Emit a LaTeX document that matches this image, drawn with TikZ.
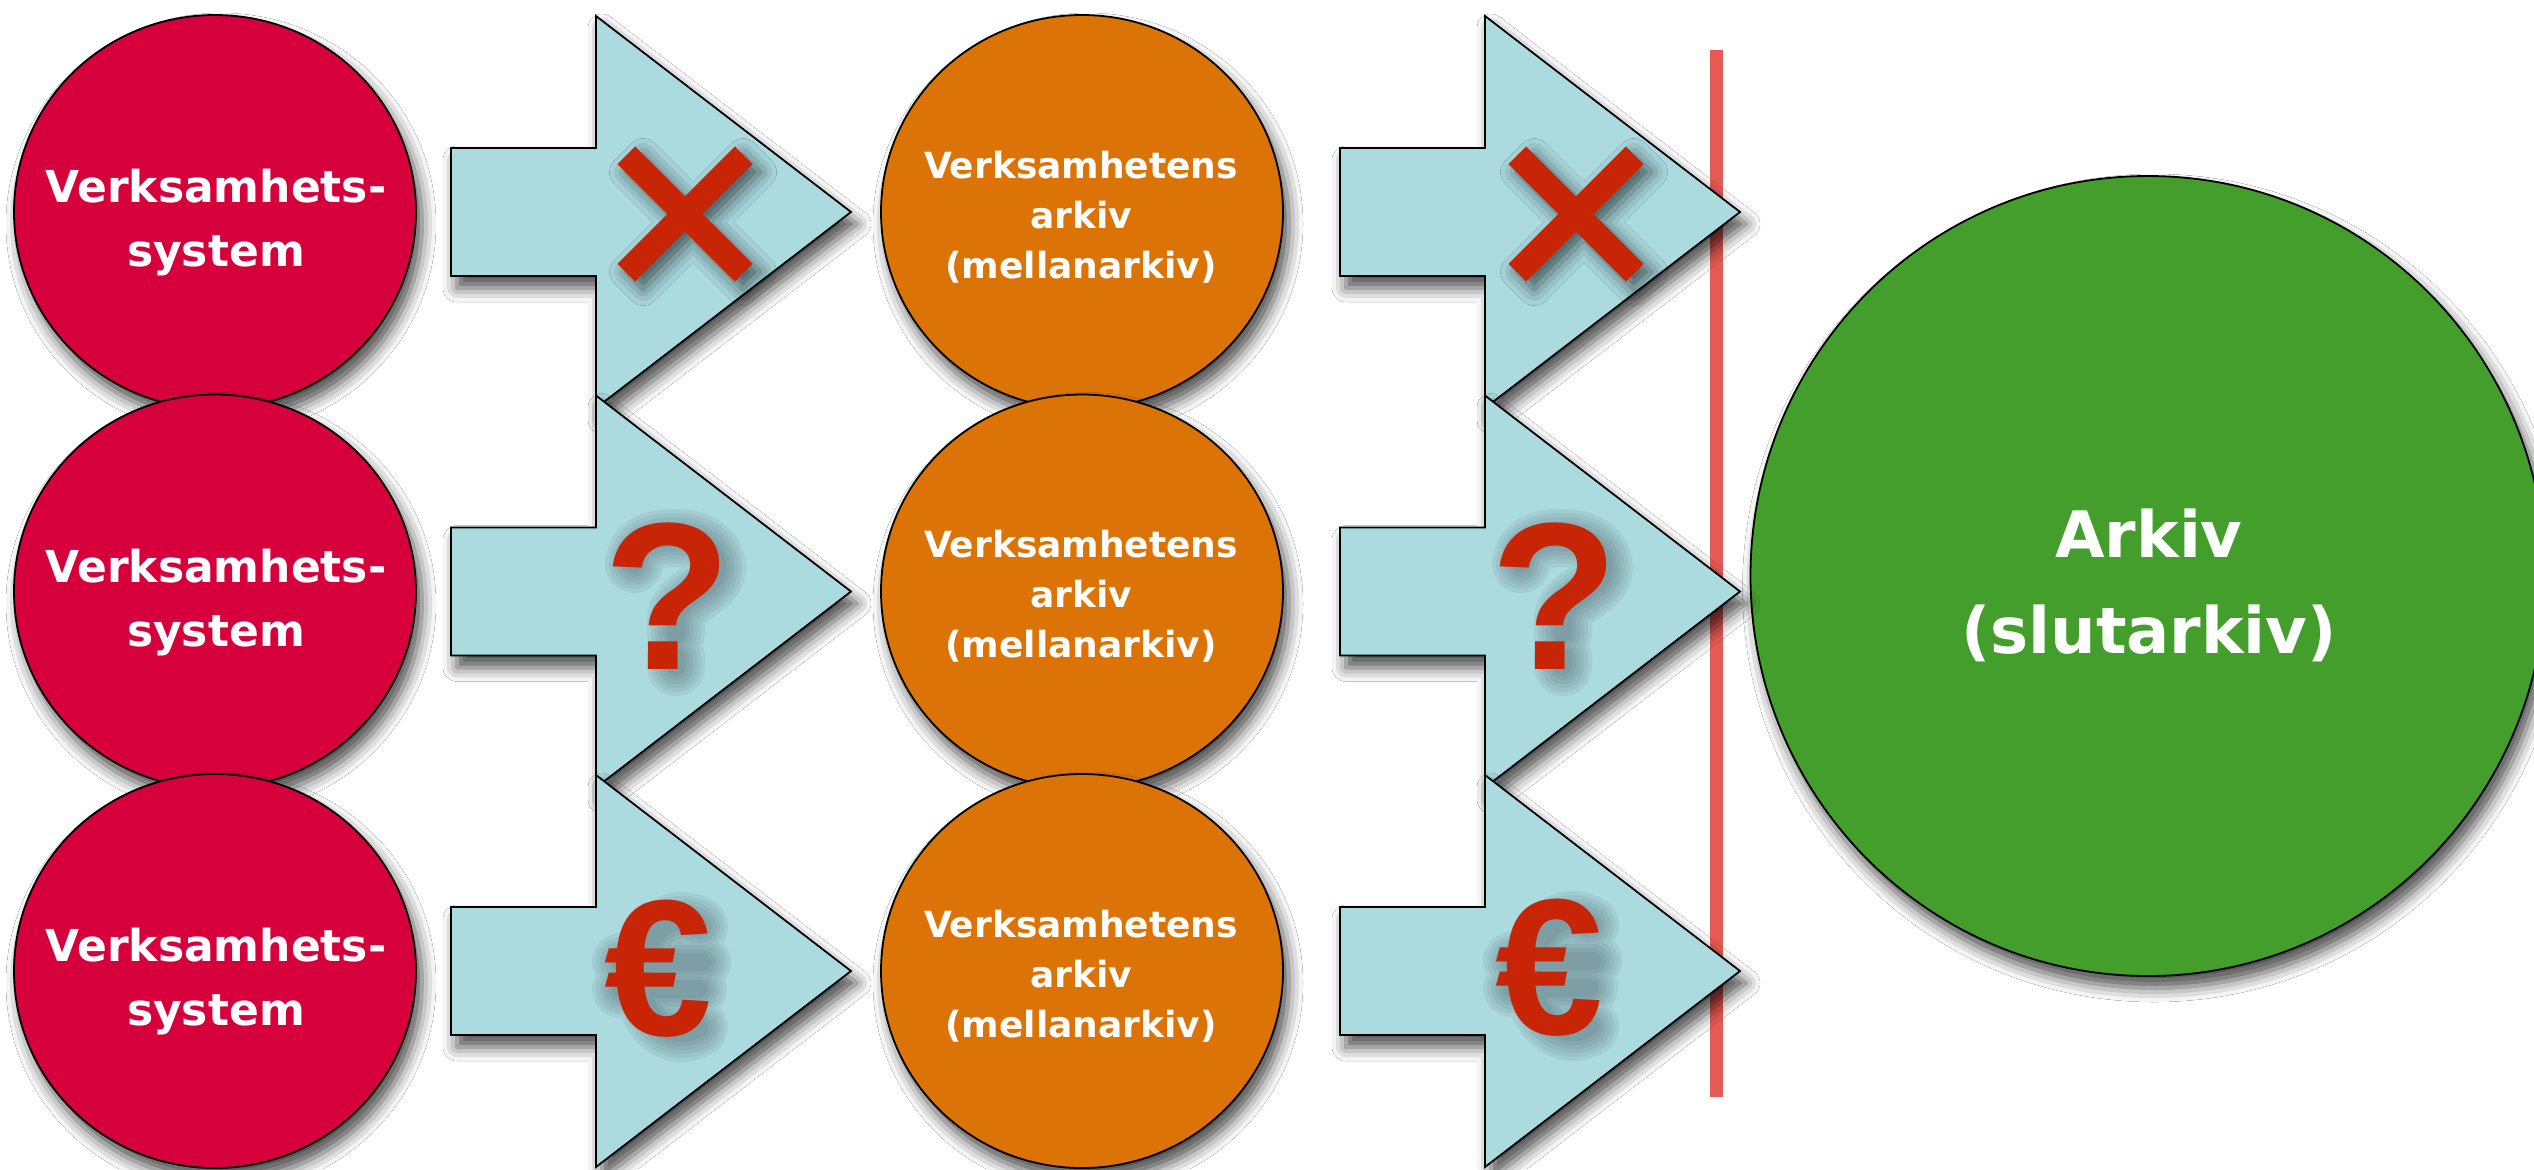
\documentclass[tikz,border=0pt]{standalone}
\usepackage{fontspec}
\setmainfont{DejaVu Sans}
\newfontfamily\symfont{Liberation Sans}
\usetikzlibrary{shapes.geometric,shadows.blur}
\definecolor{sysred}{HTML}{D5003C}
\definecolor{midorange}{HTML}{DB7306}
\definecolor{archgreen}{HTML}{439E2B}
\definecolor{arrowblue}{HTML}{ABDADF}
\definecolor{markred}{HTML}{C82506}
\definecolor{chalk}{HTML}{E65A55}
\definecolor{shade}{HTML}{3C4450}
\tikzset{
  shad/.style={blur shadow={shadow xshift=3pt,shadow yshift=-6pt,shadow blur radius=7pt,shadow opacity=70}},
  disc/.style={shape=ellipse,draw=black,line width=0.9pt,inner sep=0pt,minimum width=201pt,minimum height=197pt,shad},
  sysdisc/.style={disc,fill=sysred},
  middisc/.style={disc,fill=midorange},
  systext/.style={text=white,align=center,inner sep=0pt,font=\fontsize{22}{32}\selectfont\bfseries},
  midtext/.style={text=white,align=center,inner sep=0pt,font=\fontsize{18}{25}\selectfont\bfseries},
  arktext/.style={text=white,align=center,inner sep=0pt,font=\fontsize{32}{48}\selectfont\bfseries},
  blockarrow/.style={fill=arrowblue,draw=black,line width=0.9pt,line join=miter,shad},
  bigarrow/.pic={\path[blockarrow] (0,-64) -- (145,-64) -- (145,-196) -- (400,0) -- (145,196) -- (145,64) -- (0,64) -- cycle;},
  xmark/.style={fill=markred,blur shadow={shadow xshift=4pt,shadow yshift=-4pt,shadow blur radius=8pt,shadow opacity=60}},
  qglyph/.style={text=markred,inner sep=0pt,font=\symfont\bfseries\fontsize{105}{105}\selectfont},
  eglyph/.style={text=markred,inner sep=0pt,font=\symfont\bfseries\fontsize{97}{97}\selectfont},
  softstroke/.style={draw=shade,draw opacity=0.08,line cap=round,line join=round,line width=#1},
  qshade/.pic={\foreach \w in {9pt,13pt,17pt,21pt,25pt,29pt}{
      \draw[softstroke=\w] (-42,-40) .. controls (-40,-62) and (-20,-66) .. (0,-66) .. controls (24,-66) and (41,-54) .. (41,-36) .. controls (41,-14) and (2,-8) .. (0,14) -- (0,30) (0,53) -- (0,63);}},
  eshade/.pic={\foreach \w in {9pt,13pt,17pt,21pt,25pt,29pt}{
      \draw[softstroke=\w] (32.9,50.75) arc[start angle=65,end angle=295,x radius=40,y radius=56] (-45,-15) -- (36,-15) (-45,12) -- (32,12);}}
}
\begin{document}
\begin{tikzpicture}[x=0.5pt,y=-0.5pt]
\useasboundingbox (0,0) rectangle (2534,1169);
\fill[white] (0,0) rectangle (2534,1169);
% chalk separator line
\coordinate (cuttop) at (1716,50);
\coordinate (cutbot) at (1716,1097);
\draw[chalk,line width=6.5pt] (cuttop) -- (cutbot);
% final archive
\node[disc,fill=archgreen,minimum width=397.5pt,minimum height=400pt] (arkiv) at (2148,576) {};
\node[arktext] (arkivtext) at (2149,585) {Arkiv\\(slutarkiv)};
% rows
\foreach \r/\cy in {1/212,2/591.5,3/971} {
  \node[sysdisc] (sys\r) at (215,\cy) {};
  \node[systext] (systxt\r) at (216,\cy+11) {Verksamhets-\\system};
  \pic (arrA\r) at (451,\cy) {bigarrow};
  \node[middisc] (mid\r) at (1082,\cy) {};
  \node[midtext] (midtxt\r) at (1081,\cy+5) {Verksamhetens\\arkiv\\(mellanarkiv)};
  \pic (arrB\r) at (1340,\cy) {bigarrow};
}
% X marks
\foreach \x in {685,1576} {
  \path[xmark,shift={(\x,214)}] (67.53,49.85) -- (17.68,0) -- (67.53,-49.85) -- (49.85,-67.53) -- (0,-17.68) -- (-49.85,-67.53) -- (-67.53,-49.85) -- (-17.68,0) -- (-67.53,49.85) -- (-49.85,67.53) -- (0,17.68) -- (49.85,67.53) -- cycle;
}
% soft shadows of the glyphs
\pic (qashade) at (676,604) {qshade};
\pic (qbshade) at (1563,604) {qshade};
\pic (eashade) at (666,977) {eshade};
\pic (ebshade) at (1557,976) {eshade};
% glyphs
\node[qglyph] (qa) at (668,596) {?};
\node[qglyph] (qb) at (1555,596) {?};
\node[eglyph] (ea) at (658,969) {€};
\node[eglyph] (eb) at (1549,968) {€};
\end{tikzpicture}
\end{document}
